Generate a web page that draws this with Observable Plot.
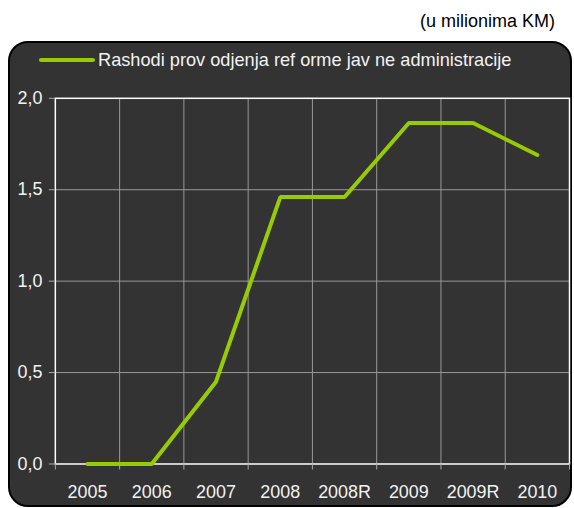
<!DOCTYPE html>
<html><head><meta charset="utf-8">
<script src="https://cdn.jsdelivr.net/npm/d3@7"></script>
<script src="https://cdn.jsdelivr.net/npm/@observablehq/plot@0.6"></script>
<style>
body{margin:0;background:#fff;font-family:"Liberation Sans",Arial,sans-serif;}
#wrap{position:relative;width:574px;height:508px;overflow:hidden;}
#unit{position:absolute;right:19px;top:11px;font-size:18px;line-height:20px;color:#000;}
#box{position:absolute;left:8px;top:41px;width:560px;height:462px;background:#333;border:2px solid #000;border-radius:20px;}
#legend{position:absolute;left:29px;top:6px;height:22px;display:flex;align-items:center;color:#f2f2f2;font-size:18.2px;white-space:pre;}
#legend .sw{width:56px;height:4px;background:#99cc00;border-radius:2px;margin-right:3px;}
#chart{position:absolute;left:0;top:0;}
</style>
</head><body>
<div id="wrap">
  <div id="unit">(u milionima KM)</div>
  <div id="box">
    <div id="legend"><div class="sw"></div><span id="legendText"></span></div>
    <div id="chart"></div>
  </div>
</div>
<script>
const years = ["2005", "2006", "2007", "2008", "2008R", "2009", "2009R", "2010"];
const values = [0, 0, 0.45, 1.46, 1.46, 1.865, 1.865, 1.69];
const yTicks = [0, 0.5, 1.0, 1.5, 2.0];
const seriesName = "Rashodi prov odjenja ref orme jav ne administracije";

document.getElementById("legendText").textContent = seriesName;

const data = years.map((y, i) => ({i, year: y, v: values[i]}));
const boundaries = d3.range(years.length + 1).map(i => i - 0.5);
const fmt = d => d.toFixed(1).replace(".", ",");

const chart = Plot.plot({
  width: 562,
  height: 460,
  marginLeft: 45,
  marginRight: 1,
  marginTop: 55,
  marginBottom: 38,
  style: {background: "transparent", overflow: "visible", fontFamily: "Liberation Sans, Arial, sans-serif", fontSize: "18px", color: "#f2f2f2"},
  x: {type: "linear", domain: [-0.5, years.length - 0.5]},
  y: {domain: [0, 2]},
  marks: [
    Plot.gridY([0.5, 1.0, 1.5], {stroke: "#9a9a9a", strokeOpacity: 1, strokeWidth: 1}),
    Plot.gridX(boundaries.slice(1, -1), {stroke: "#9a9a9a", strokeOpacity: 1, strokeWidth: 1}),
    Plot.frame({stroke: "#ffffff", strokeWidth: 1.5}),
    Plot.axisY(yTicks, {tickSize: 6, tickPadding: 7, tickFormat: fmt, stroke: "#aaaaaa", fill: "#f2f2f2", label: null}),
    Plot.axisX(boundaries, {tickSize: 6, tickFormat: () => "", stroke: "#aaaaaa", label: null}),
    Plot.axisX(d3.range(years.length), {tickSize: 0, tickPadding: 21, tickFormat: i => years[i], fill: "#f2f2f2", label: null}),
    Plot.line(data, {x: "i", y: "v", stroke: "#99cc00", strokeWidth: 4, strokeLinejoin: "miter"})
  ]
});
document.getElementById("chart").appendChild(chart);
</script>
</body></html>
